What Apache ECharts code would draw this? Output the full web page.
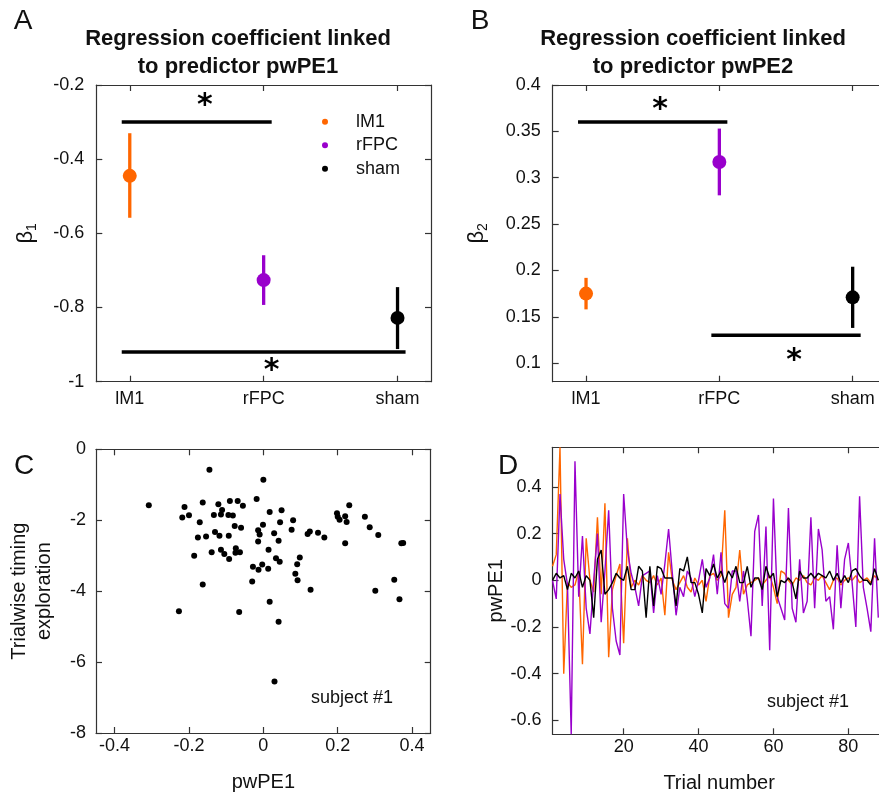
<!DOCTYPE html>
<html>
<head>
<meta charset="utf-8">
<script src="https://cdn.jsdelivr.net/npm/echarts@6/dist/echarts.min.js"></script>
<style>html,body{margin:0;padding:0;background:#fff}#c{width:879px;height:794px}</style>
</head>
<body>
<div id="c"></div>
<script>
// ---------- DATA ----------
const categories = ['lM1', 'rFPC', 'sham'];
const catPos = [1, 2, 3];
const groupColors = ['#ff6600', '#9900cc', '#000000'];

// Panel A: beta1
const beta1Mean = [-0.445, -0.726, -0.828];
const beta1Low = [-0.558, -0.793, -0.912];
const beta1High = [-0.330, -0.659, -0.745];
const sigBarsA = [[0.94, 2.06, -0.30], [0.94, 3.06, -0.92]];
const starsA = [[1.56, -0.24], [2.06, -0.955]];
const yTicksA = [-1, -0.8, -0.6, -0.4, -0.2];

// Panel B: beta2
const beta2Mean = [0.175, 0.317, 0.171];
const beta2Low = [0.158, 0.281, 0.138];
const beta2High = [0.192, 0.353, 0.204];
const sigBarsB = [[0.94, 2.06, 0.36], [1.94, 3.06, 0.13]];
const starsB = [[1.555, 0.379], [2.56, 0.109]];
const yTicksB = [0.1, 0.15, 0.2, 0.25, 0.3, 0.35, 0.4];

// Panel C: scatter
const scatterX = [-0.308,-0.145,0.000,-0.212,-0.218,-0.200,-0.163,-0.171,-0.121,-0.111,-0.133,-0.114,-0.090,-0.069,-0.055,-0.094,-0.082,-0.018,0.017,0.049,0.080,0.045,-0.001,-0.077,-0.060,-0.130,-0.118,-0.154,-0.176,-0.093,-0.014,-0.010,0.029,0.076,0.119,0.125,0.147,0.164,0.198,0.200,0.205,0.220,0.224,0.231,0.273,0.286,0.309,0.220,0.371,0.376,-0.014,0.041,0.014,-0.186,-0.139,-0.114,-0.105,-0.092,-0.074,-0.075,-0.063,-0.028,-0.013,-0.003,0.013,0.034,0.044,0.091,0.098,0.086,0.092,-0.030,-0.163,0.127,0.301,0.352,0.366,-0.227,-0.065,0.017,0.041,0.030];
const scatterY = [-1.58,-0.58,-0.86,-1.63,-1.92,-1.86,-1.50,-2.06,-1.55,-1.71,-1.85,-1.84,-1.46,-1.46,-1.59,-1.85,-1.87,-1.40,-1.77,-1.72,-2.00,-2.06,-2.13,-2.16,-2.21,-2.33,-2.44,-2.46,-2.49,-2.44,-2.28,-2.40,-2.37,-2.27,-2.39,-2.32,-2.35,-2.49,-1.80,-1.90,-1.99,-1.89,-2.05,-1.58,-1.90,-2.20,-2.42,-2.65,-2.65,-2.64,-2.60,-2.58,-2.83,-3.00,-2.90,-2.83,-2.95,-3.09,-2.79,-2.92,-2.90,-3.31,-3.40,-3.25,-3.37,-3.07,-3.17,-3.24,-3.05,-3.51,-3.69,-3.73,-3.81,-3.96,-3.99,-3.68,-4.23,-4.57,-4.59,-4.30,-4.86,-6.55];
const xTicksC = [-0.4, -0.2, 0, 0.2, 0.4];
const yTicksC = [-8, -6, -4, -2, 0];

// Panel D: trialwise pwPE1 (trials 1..88)
const pwM1 = [0.06,0.11,0.57,-0.40,-0.01,-0.03,-0.02,0.04,-0.36,0.18,0.00,-0.05,0.27,-0.06,0.33,-0.33,-0.04,0.02,0.07,-0.27,0.18,-0.03,0.00,-0.02,0.02,0.00,-0.01,0.02,-0.02,0.01,-0.15,0.12,0.00,-0.04,-0.01,0.02,-0.03,-0.05,0.01,-0.02,0.00,-0.09,0.02,0.03,0.00,0.02,0.30,-0.16,-0.06,-0.03,0.13,-0.06,-0.02,-0.01,0.00,0.01,-0.02,0.00,0.02,-0.03,-0.10,0.04,0.03,0.00,-0.02,0.01,0.00,0.02,-0.01,-0.02,0.01,0.00,0.02,-0.01,-0.04,0.00,0.01,-0.02,0.00,0.01,0.00,0.02,-0.01,0.00,0.01,-0.01,0.02,0.00];
const pwFPC = [0.00,-0.08,0.37,0.09,-0.02,-0.66,0.51,-0.07,0.19,-0.12,-0.23,0.00,0.20,-0.18,0.04,0.30,-0.12,-0.26,-0.32,0.37,0.13,0.03,-0.03,-0.11,0.02,0.03,0.04,-0.14,0.02,-0.06,0.07,0.22,0.03,-0.15,-0.03,-0.07,0.04,0.01,-0.07,0.00,0.09,-0.03,0.01,0.11,-0.06,0.12,-0.10,-0.12,0.04,0.04,-0.09,0.04,-0.08,-0.24,0.21,0.28,-0.11,0.23,-0.30,0.35,-0.07,-0.12,-0.17,0.31,-0.12,-0.18,0.09,-0.14,-0.09,0.27,-0.12,0.22,0.13,-0.09,-0.07,-0.21,0.15,-0.12,0.09,0.16,-0.01,-0.20,0.36,-0.03,-0.12,-0.22,0.18,-0.16];
const pwSham = [0.00,0.03,0.01,0.02,-0.04,0.03,0.01,0.04,-0.03,0.02,0.00,-0.16,0.09,0.13,-0.06,-0.04,-0.01,0.03,0.01,0.00,0.06,-0.04,-0.04,0.06,0.04,-0.16,0.06,-0.11,0.06,0.05,0.01,0.01,0.01,-0.11,0.05,0.04,0.10,-0.01,-0.01,-0.06,-0.14,0.05,0.02,0.07,0.01,0.04,-0.01,0.04,0.01,0.06,-0.01,-0.01,0.06,-0.03,0.01,0.01,-0.04,0.06,0.01,0.03,-0.07,0.00,-0.01,0.01,-0.01,-0.08,0.04,0.01,0.01,0.03,0.01,0.03,0.02,0.01,0.04,0.00,0.03,-0.01,0.02,-0.01,0.04,0.05,0.02,0.00,0.00,-0.02,0.05,0.00];
const xTicksD = [20, 40, 60, 80];
const yTicksD = [-0.6, -0.4, -0.2, 0, 0.2, 0.4];

// ---------- STYLE / LAYOUT ----------
const FONT = 'Liberation Sans, Arial, Helvetica, sans-serif';
const AX = '#333333';
const TXT = '#111111';
const grids = [
  {left: 96.3, top: 85, width: 334.7, height: 296.7},
  {left: 552.7, top: 85, width: 333.3, height: 296.7},
  {left: 96, top: 449.3, width: 334.7, height: 283.7},
  {left: 552.5, top: 447.3, width: 333.3, height: 287}
];

function fmtNum(v) { return String(Math.round(v * 1000) / 1000); }
function catFmt(v) { const i = catPos.indexOf(Math.round(v)); return i >= 0 ? categories[i] : ''; }

function mainX(g, min, max, ticks, fmt, margin, name, nameGap) {
  return {
    gridIndex: g, type: 'value', min: min, max: max, position: 'bottom',
    axisLine: {show: true, onZero: false, lineStyle: {color: AX, width: 1.2}},
    axisTick: {show: true, inside: true, length: 6, customValues: ticks, lineStyle: {color: AX, width: 1.2}},
    axisLabel: {show: true, customValues: ticks, formatter: fmt, margin: margin, fontSize: 18, fontFamily: FONT, color: TXT},
    splitLine: {show: false},
    name: name || '', nameLocation: 'middle', nameGap: nameGap || 0,
    nameTextStyle: {fontSize: 20, fontFamily: FONT, color: TXT}
  };
}
function mirrorX(g, min, max, ticks) {
  return {
    gridIndex: g, type: 'value', min: min, max: max, position: 'top',
    axisLine: {show: true, onZero: false, lineStyle: {color: AX, width: 1.2}},
    axisTick: {show: true, inside: true, length: 6, customValues: ticks, lineStyle: {color: AX, width: 1.2}},
    axisLabel: {show: false}, splitLine: {show: false}
  };
}
function mainY(g, min, max, ticks, margin, name, nameGap, nameStyle) {
  return {
    gridIndex: g, type: 'value', min: min, max: max, position: 'left',
    axisLine: {show: true, onZero: false, lineStyle: {color: AX, width: 1.2}},
    axisTick: {show: true, inside: true, length: 6, customValues: ticks, lineStyle: {color: AX, width: 1.2}},
    axisLabel: {show: true, customValues: ticks, formatter: fmtNum, margin: margin, fontSize: 18, fontFamily: FONT, color: TXT},
    splitLine: {show: false},
    name: name, nameLocation: 'middle', nameGap: nameGap, nameRotate: 90,
    nameTextStyle: nameStyle
  };
}
function mirrorY(g, min, max, ticks) {
  return {
    gridIndex: g, type: 'value', min: min, max: max, position: 'right',
    axisLine: {show: true, onZero: false, lineStyle: {color: AX, width: 1.2}},
    axisTick: {show: true, inside: true, length: 6, customValues: ticks, lineStyle: {color: AX, width: 1.2}},
    axisLabel: {show: false}, splitLine: {show: false}
  };
}
const betaStyle = () => ({
  fontFamily: FONT, color: TXT,
  rich: {
    b: {fontSize: 22, fontFamily: FONT, color: TXT, lineHeight: 26},
    s: {fontSize: 14, fontFamily: FONT, color: TXT, lineHeight: 14, verticalAlign: 'bottom'}
  }
});

const xAxes = [
  mainX(0, 0.75, 3.25, catPos, catFmt, 8), mirrorX(0, 0.75, 3.25, catPos),
  mainX(1, 0.75, 3.25, catPos, catFmt, 8), mirrorX(1, 0.75, 3.25, catPos),
  mainX(2, -0.45, 0.45, xTicksC, fmtNum, 4, 'pwPE1', 39), mirrorX(2, -0.45, 0.45, xTicksC),
  mainX(3, 1, 90, xTicksD, fmtNum, 4, 'Trial number', 39), mirrorX(3, 1, 90, xTicksD)
];
const yAxes = [
  mainY(0, -1, -0.2, yTicksA, 12, '{b|β}{s|1}', 57, betaStyle()), mirrorY(0, -1, -0.2, yTicksA),
  mainY(1, 0.08, 0.4, yTicksB, 12, '{b|β}{s|2}', 63, betaStyle()), mirrorY(1, 0.08, 0.4, yTicksB),
  mainY(2, -8, 0, yTicksC, 10, 'Trialwise timing\nexploration', 39, {fontSize: 20, fontFamily: FONT, color: TXT, lineHeight: 25}), mirrorY(2, -8, 0, yTicksC),
  mainY(3, -0.66, 0.57, yTicksD, 11, 'pwPE1', 36, {fontSize: 20, fontFamily: FONT, color: TXT}), mirrorY(3, -0.66, 0.57, yTicksD)
];

// ---------- SERIES ----------
const series = [];
function addGroupPanel(g, means, lows, highs, bars, stars) {
  const xi = g * 2, yi = g * 2;
  series.push({
    type: 'custom', xAxisIndex: xi, yAxisIndex: yi, z: 2, silent: true,
    data: catPos.map((x, i) => [x, lows[i], highs[i], i]),
    encode: {x: 0, y: [1, 2]},
    renderItem: (params, api) => {
      const x = api.value(0);
      const p1 = api.coord([x, api.value(1)]), p2 = api.coord([x, api.value(2)]);
      return {type: 'line', shape: {x1: p1[0], y1: p1[1], x2: p2[0], y2: p2[1]},
        style: {stroke: groupColors[api.value(3)], lineWidth: 3.3}};
    }
  });
  categories.forEach((c, i) => {
    series.push({
      type: 'scatter', name: c, xAxisIndex: xi, yAxisIndex: yi, z: 3,
      data: [[catPos[i], means[i]]], symbol: 'circle', symbolSize: 14,
      itemStyle: {color: groupColors[i], opacity: 1}
    });
  });
  bars.forEach(b => {
    series.push({
      type: 'line', xAxisIndex: xi, yAxisIndex: yi, z: 2, symbol: 'none', silent: true,
      data: [[b[0], b[2]], [b[1], b[2]]],
      lineStyle: {color: '#000', width: 3.5}
    });
  });
  series.push({
    type: 'scatter', xAxisIndex: xi, yAxisIndex: yi, z: 4, silent: true,
    data: stars, symbolSize: 1, itemStyle: {color: '#000', opacity: 1},
    label: {show: true, position: 'inside', formatter: '*', fontSize: 30, fontWeight: 'bold',
      fontFamily: 'DejaVu Sans', color: '#000', textBorderWidth: 0, textBorderColor: 'transparent',
      opacity: 1, offset: [0, 6]}
  });
}
addGroupPanel(0, beta1Mean, beta1Low, beta1High, sigBarsA, starsA);
addGroupPanel(1, beta2Mean, beta2Low, beta2High, sigBarsB, starsB);

series.push({
  type: 'scatter', xAxisIndex: 4, yAxisIndex: 4, symbolSize: 6,
  data: scatterX.map((x, i) => [x, scatterY[i]]),
  itemStyle: {color: '#000', opacity: 1}
});

const trials = pwM1.map((_, i) => i + 1);
[[pwM1, '#ff6600', 'pw-lM1'], [pwFPC, '#9900cc', 'pw-rFPC'], [pwSham, '#000000', 'pw-sham']].forEach(([arr, col, nm]) => {
  series.push({
    type: 'line', name: nm, xAxisIndex: 6, yAxisIndex: 6, symbol: 'none',
    data: trials.map((t, i) => [t, arr[i]]),
    lineStyle: {color: col, width: 1.4}, itemStyle: {color: col}, clip: true
  });
});

// ---------- CHART ----------
const chart = echarts.init(document.getElementById('c'), null, {renderer: 'canvas'});
const txt = (text, x, y, size, weight, extra) => Object.assign({
  type: 'text', x: x, y: y, silent: true,
  style: Object.assign({text: text, font: (weight || 'normal') + ' ' + size + 'px ' + FONT,
    fill: TXT, align: 'center', verticalAlign: 'middle'}, extra || {})
});
chart.setOption({
  animation: false,
  backgroundColor: '#ffffff',
  grid: grids.map(g => Object.assign({containLabel: false, outerBoundsMode: 'none'}, g)),
  xAxis: xAxes,
  yAxis: yAxes,
  legend: {
    data: categories, orient: 'vertical', left: 317, top: 106.7,
    icon: 'circle', itemWidth: 6, itemHeight: 6, itemGap: 3.5,
    textStyle: {fontSize: 18, fontFamily: FONT, color: TXT, lineHeight: 20, padding: [0, 0, 0, 23]},
    selectedMode: false
  },
  graphic: [
    txt('A', 23, 21, 28),
    txt('B', 480, 21, 28),
    txt('C', 24, 466, 28),
    txt('D', 508, 466, 28),
    txt('Regression coefficient linked\nto predictor pwPE1', 238, 53, 22, 'bold', {lineHeight: 28}),
    txt('Regression coefficient linked\nto predictor pwPE2', 693, 53, 22, 'bold', {lineHeight: 28}),
    txt('subject #1', 352, 698, 18),
    txt('subject #1', 808, 702, 18)
  ],
  series: series
});
</script>
</body>
</html>
